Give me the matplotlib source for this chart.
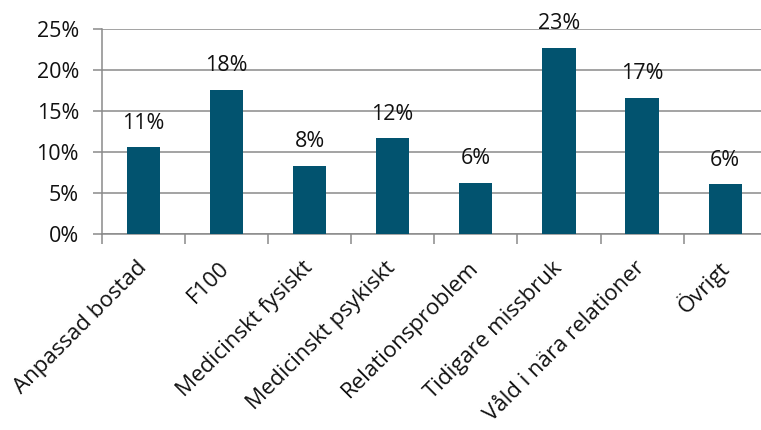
"""Share of cases by reason, bar chart with percentage labels."""

import matplotlib

matplotlib.use("Agg")
import matplotlib.pyplot as plt
import numpy as np
from matplotlib.ticker import FuncFormatter, FixedLocator

categories = [
    "Anpassad bostad",
    "F100",
    "Medicinskt fysiskt",
    "Medicinskt psykiskt",
    "Relationsproblem",
    "Tidigare missbruk",
    "Våld i nära relationer",
    "Övrigt",
]
shares = [0.106, 0.176, 0.083, 0.117, 0.063, 0.227, 0.166, 0.061]
y_ticks = [0.0, 0.05, 0.10, 0.15, 0.20, 0.25]

BAR_COLOR = "#02536f"
GRID_COLOR = "#8a8a8a"
TEXT_COLOR = "#111111"

plt.rcParams["font.family"] = ["Open Sans", "DejaVu Sans"]

fig = plt.figure(figsize=(7.61, 4.30), dpi=100)
ax = fig.add_axes([0.1336, 0.455, 0.874, 0.4774])

x = np.arange(len(categories))
bars = ax.bar(x, shares, width=0.4, color=BAR_COLOR, zorder=3)

for rect, val in zip(bars, shares):
    ax.annotate(
        f"{val:.0%}",
        xy=(rect.get_x() + rect.get_width() / 2, rect.get_height()),
        xytext=(0, 13.5),
        textcoords="offset points",
        ha="center",
        va="baseline",
        fontsize=15.5,
        color=TEXT_COLOR,
    )

ax.set_xlim(-0.5, len(categories) - 0.5)
ax.set_ylim(0, 0.25)

ax.yaxis.set_major_locator(FixedLocator(y_ticks))
ax.yaxis.set_major_formatter(FuncFormatter(lambda v, _: f"{v:.0%}"))
ax.yaxis.grid(True, color=GRID_COLOR, linewidth=1.1, zorder=0)
ax.tick_params(axis="y", length=6.3, width=1.1, color=GRID_COLOR,
               labelsize=15.5, labelcolor=TEXT_COLOR, pad=10)

# boundary ticks between categories, labels centred on each bar
ax.set_xticks(np.arange(len(categories) + 1) - 0.5)
ax.set_xticklabels([])
ax.tick_params(axis="x", which="major", length=7, width=1.1, color=GRID_COLOR)
ax.set_xticks(x, minor=True)
ax.set_xticklabels(categories, minor=True, rotation=45, ha="right", va="center",
                   rotation_mode="anchor", fontsize=16, color=TEXT_COLOR)
ax.tick_params(axis="x", which="minor", length=0, pad=22)

for side in ("top", "right"):
    ax.spines[side].set_visible(False)
for side in ("left", "bottom"):
    ax.spines[side].set_color(GRID_COLOR)
    ax.spines[side].set_linewidth(1.1)

fig.savefig("out.png", dpi=100)
